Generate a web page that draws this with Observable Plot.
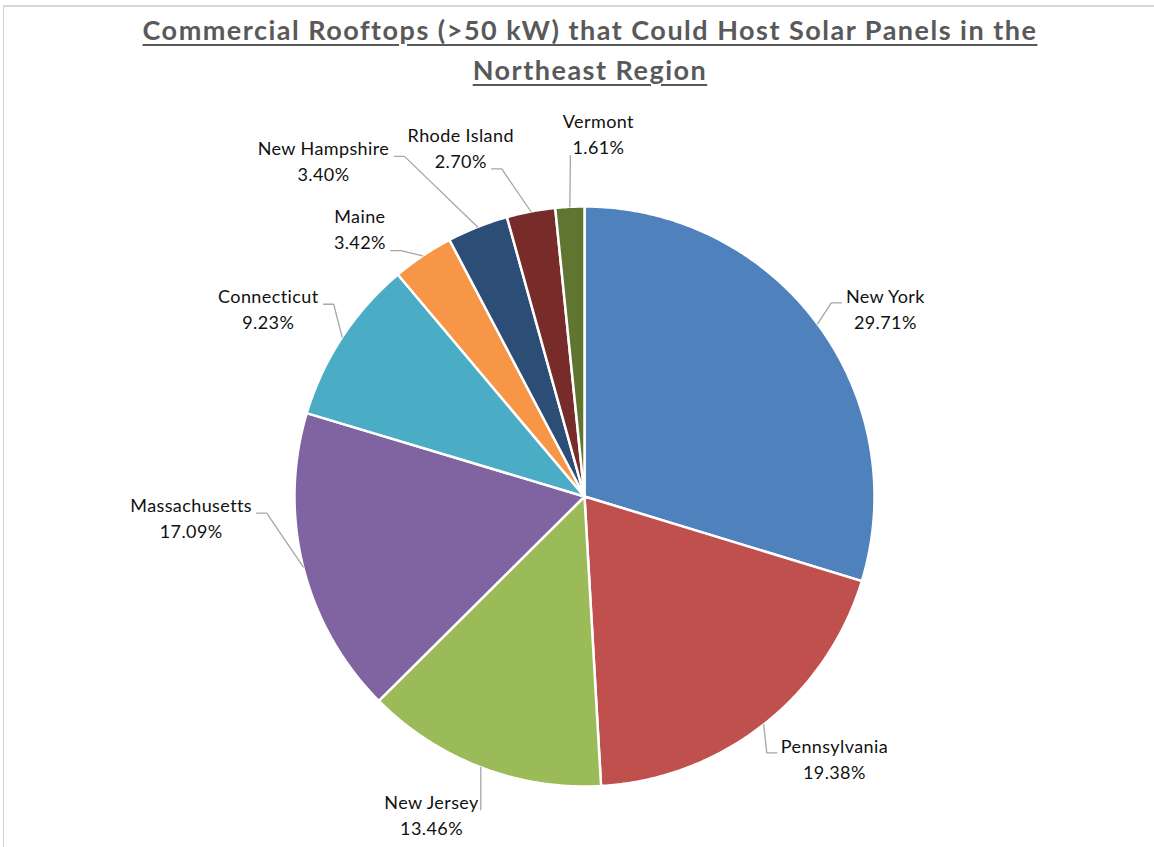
<!DOCTYPE html>
<html>
<head>
<meta charset="utf-8">
<script src="https://cdn.jsdelivr.net/npm/d3@7"></script>
<script src="https://cdn.jsdelivr.net/npm/@observablehq/plot@0.6"></script>
<style>
  html, body { margin: 0; padding: 0; background: #fff; }
  body { width: 1154px; height: 847px; overflow: hidden; position: relative; font-family: Lato, "Open Sans", sans-serif; }
  #frame { position: absolute; left: 3px; top: 5px; width: 1300px; height: 1000px; border-left: 1px solid #d0d0d0; border-top: 2px solid #d6d6d6; pointer-events: none; }
  #title { height: 100px; text-align: center; color: #595959; font-weight: 700; font-size: 27px; letter-spacing: 1.5px; line-height: 40px; padding-top: 10px; padding-left: 26px; box-sizing: border-box; }
  #title span { text-decoration: underline; text-decoration-thickness: 2px; text-underline-offset: 4px; }
  #chart svg { display: block; }
  #chart text { letter-spacing: 0.4px; }
</style>
</head>
<body>
<div id="frame"></div>
<div id="title"></div>
<div id="chart"></div>
<script>
// ---- data ----
const states = ["New York", "Pennsylvania", "New Jersey", "Massachusetts", "Connecticut", "Maine", "New Hampshire", "Rhode Island", "Vermont"];
const shares = [29.71, 19.38, 13.46, 17.09, 9.23, 3.42, 3.40, 2.70, 1.61];
const colors = ["#4F81BD", "#C0504D", "#9BBB59", "#8064A2", "#4BACC6", "#F79646", "#2C4D75", "#772C2A", "#5F7530"];
const titleLines = ["Commercial Rooftops (>50 kW) that Could Host Solar Panels in the", "Northeast Region"];

// ---- layout ----
const W = 1154, H = 747, CX = 584, CY = 396, R = 290;
// label placement: polar angle (deg, clockwise from top), distance from centre, leader style, attach row
const labelLayout = [
  {a: 58.2, d: 354, leader: "right", row: 0},
  {a: 136.5, d: 363, leader: "right", row: 0},
  {a: 205.6, d: 354, leader: "down", row: 0},
  {a: 266.7, d: 394, leader: "left", row: 0},
  {a: 300.5, d: 367, leader: "left", row: 0},
  {a: 319.8, d: 348, leader: "left", row: 1},
  {a: 322.0, d: 424, leader: "left", row: 0},
  {a: 340.4, d: 369, leader: "left", row: 1},
  {a: 2.2, d: 362, leader: "direct", row: 1}
];
const ROW = 13; // half line spacing
const FONT = "18px Lato";
const LS = 0.4; // label letter spacing

document.getElementById("title").innerHTML = titleLines.map(t => `<span>${t.replace(/&/g,"&amp;").replace(/</g,"&lt;").replace(/>/g,"&gt;")}</span>`).join("<br>");

const rows = states.map((name, i) => ({name, value: shares[i], pct: shares[i].toFixed(2) + "%"}));
const arcs = d3.pie().sort(null).value(d => d.value)(rows);

const pt = (ang, r) => [r * Math.sin(ang), -r * Math.cos(ang)];

// slice polygons
const slicePts = [];
arcs.forEach(a => {
  slicePts.push({name: a.data.name, x: 0, y: 0});
  const n = Math.max(2, Math.ceil((a.endAngle - a.startAngle) / (Math.PI / 360)));
  for (let k = 0; k <= n; k++) {
    const ang = a.startAngle + (a.endAngle - a.startAngle) * k / n;
    const [x, y] = pt(ang, R);
    slicePts.push({name: a.data.name, x, y});
  }
  slicePts.push({name: a.data.name, x: 0, y: 0});
});

// label positions and leaders
const ctx = document.createElement("canvas").getContext("2d");
ctx.font = FONT;
const labels = [], leaders = [];
arcs.forEach((a, i) => {
  const L = labelLayout[i];
  const [lx, ly] = pt(L.a * Math.PI / 180, L.d);
  labels.push({name: a.data.name, pct: a.data.pct, x: lx, y: ly});
  const mid = (a.startAngle + a.endAngle) / 2;
  const [ex, ey] = pt(mid, R);
  const rowText = L.row === 0 ? a.data.name : a.data.pct;
  const half = (ctx.measureText(rowText).width + LS * rowText.length) / 2;
  const rowY = ly + (L.row === 0 ? -ROW : ROW);
  let pts;
  if (L.leader === "right") {
    const endX = lx - half - 4, endY = rowY + 6;
    pts = [[ex, ey], [endX - 10, endY], [endX, endY]];
  } else if (L.leader === "left") {
    const endX = lx + half + 5, endY = rowY + 7;
    pts = [[ex, ey], [endX + 10, endY], [endX, endY]];
  } else if (L.leader === "down") {
    pts = [[ex, ey], [ex, rowY + 7]];
  } else {
    pts = [[ex, ey], [lx - half - 2, rowY + 8]];
  }
  pts.forEach(([x, y]) => leaders.push({name: a.data.name, x, y}));
});

const chart = Plot.plot({
  width: W,
  height: H,
  margin: 0,
  x: {domain: [-CX, W - CX], range: [0, W], axis: null},
  y: {domain: [-CY, H - CY], range: [0, H], axis: null},
  color: {domain: states, range: colors},
  style: {fontFamily: "Lato, sans-serif", background: "transparent", overflow: "visible"},
  marks: [
    Plot.line(slicePts, {x: "x", y: "y", z: "name", fill: "name", stroke: "white", strokeWidth: 2.5, strokeLinejoin: "round"}),
    Plot.line(leaders, {x: "x", y: "y", z: "name", stroke: "#a6a6a6", strokeWidth: 1.3}),
    Plot.text(labels, {x: "x", y: "y", text: "name", dy: -ROW, fontSize: 18, fill: "#111"}),
    Plot.text(labels, {x: "x", y: "y", text: "pct", dy: ROW, fontSize: 18, fill: "#111"})
  ]
});
document.getElementById("chart").appendChild(chart);
</script>
</body>
</html>
